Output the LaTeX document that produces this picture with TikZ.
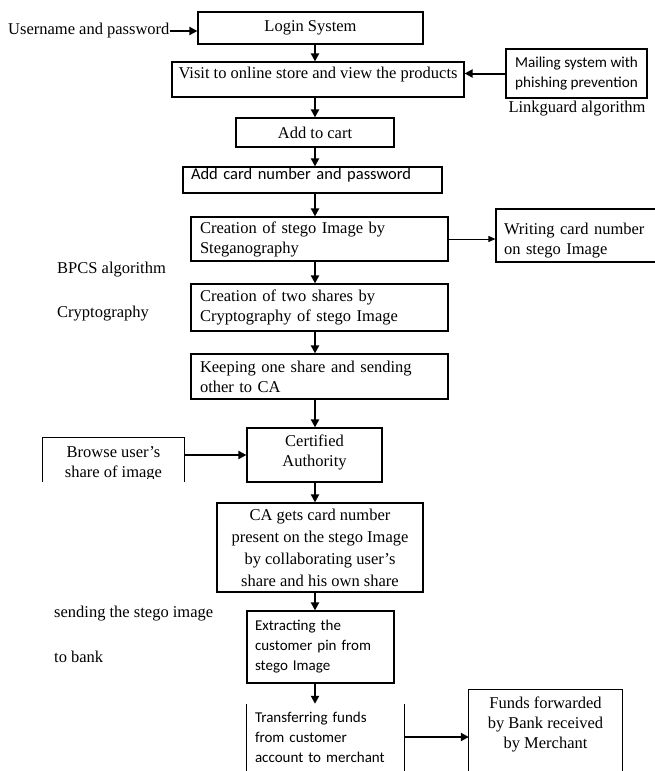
\documentclass[tikz,border=0pt]{standalone}
\usepackage{fontspec}
\setmainfont{Liberation Serif}
\newfontfamily\sansf{Carlito}
\usetikzlibrary{arrows.meta}
\begin{document}
\begin{tikzpicture}[x=1pt,y=-1pt,
  serif/.style={font=\fontsize{16.5}{20}\selectfont},
  box/.style={draw, line width=1.2pt, inner sep=0pt, serif},
  openbox/.style={inner sep=0pt, serif},
  sbox/.style={font=\sansf\fontsize{15}{20}\selectfont},
  arr/.style={line width=2pt, -{Triangle[length=8pt,width=8pt]}},
  thinarr/.style={line width=1pt, -{Triangle[length=7pt,width=6pt]}},
  lbl/.style={serif, inner sep=0pt, anchor=west},
  edge/.style={line width=1.2pt}]
\useasboundingbox (0,0) rectangle (654,771);
\coordinate (ax) at (315,0);

% main column
\node[box, minimum width=225pt, minimum height=32pt] (login) at (310.5,28) {Login System};
\node[box, minimum width=292pt, minimum height=35pt, text height=11pt, text depth=13pt] (visit) at (318,79.5) {Visit to online store and view the products};
\node[box, font=\sansf\fontsize{16.5}{20}\selectfont, minimum width=259pt, minimum height=26pt, text width=243pt, align=left, text height=11pt, text depth=12pt] (card) at (312.5,180) {Add card number and password};
\node[box, minimum width=158pt, minimum height=29pt] (cart) at (315,132.5) {Add to cart};
\node[box, minimum width=257pt, minimum height=44pt, text width=239pt, align=left] (stego) at (319.5,239) {Creation of stego Image by\\Steganography};
\node[box, minimum width=257pt, minimum height=47pt, text width=239pt, align=left] (shares) at (319.5,307.5) {Creation of two shares by\\Cryptography of stego Image};
\node[box, minimum width=257pt, minimum height=45pt, text width=239pt, align=left] (keep) at (319.5,376.5) {Keeping one share and sending\\other to CA};
\node[box, minimum width=135pt, minimum height=54pt, align=center, text depth=8pt] (cert) at (314.5,455) {Certified\\Authority};
\node[box, minimum width=206pt, minimum height=89pt, align=center, font=\fontsize{16.5}{22}\selectfont] (cagets) at (320,547.5) {CA gets card number\\present on the stego Image\\by collaborating user's\\share and his own share};
\node[box, sbox, minimum width=147pt, minimum height=72pt, text width=131pt, align=left] (extract) at (320.5,647) {Extracting the\\customer pin from\\stego Image};
\node[openbox, sbox, minimum width=157pt, minimum height=66pt, text width=141pt, align=left] (transfer) at (325.5,737) {Transferring funds\\from customer\\account to merchant};
\draw[edge] (transfer.north west) -- ++(0,75) (transfer.north east) -- ++(0,75);

% side boxes
\node[box, minimum width=141pt, minimum height=49pt, align=center, font=\sansf\fontsize{15.2}{20}\selectfont] (mail) at (576.5,73.5) {Mailing system with\\phishing prevention};
\node[lbl, anchor=center] (link) at (577,109) {Linkguard algorithm};
\node[box, minimum width=160pt, minimum height=53pt, text width=144pt, align=left, text depth=14pt] (write) at (576,235.5) {Writing card number\\on stego Image};
\begin{scope}
\clip (38,430) rectangle (190,478);
\node[openbox, minimum width=141pt, minimum height=52pt, align=center] (browse) at (113.5,464) {Browse user's\\share of image};
\end{scope}
\draw[edge] (browse.north west) ++(0,44) -- (browse.north west) -- (browse.north east) -- ++(0,44);
\node[openbox, minimum width=153pt, minimum height=68pt, align=center] (funds) at (545.5,724) {Funds forwarded\\by Bank received\\by Merchant};
\draw[edge] (funds.north west) ++(0,90) -- (funds.north west) -- (funds.north east) -- ++(0,90);

% free labels
\node[lbl] (user) at (8,31) {Username and password};
\node[lbl] (bpcs) at (57,270) {BPCS algorithm};
\node[lbl] (crypt) at (57,314) {Cryptography};
\node[lbl] (send) at (54,614) {sending the stego image};
\node[lbl] (bank) at (54,657) {to bank};

% connectors
\draw[arr] (user.east) -- (user.east -| login.west);
\draw[arr] (login.south -| ax) -- (visit.north -| ax);
\draw[arr] (mail.west) -- (mail.west -| visit.east);
\draw[arr] (visit.south -| ax) -- (cart.north -| ax);
\draw[arr] (cart.south -| ax) -- (card.north -| ax);
\draw[arr] (card.south -| ax) -- (stego.north -| ax);
\draw[thinarr] (stego.east) -- (stego.east -| write.west);
\draw[arr] (stego.south -| ax) -- (shares.north -| ax);
\draw[arr] (shares.south -| ax) -- (keep.north -| ax);
\draw[arr] (keep.south -| ax) -- (cert.north -| ax);
\draw[arr] (cert.west -| browse.east) -- (cert.west);
\draw[arr] (cert.south -| ax) -- (cagets.north -| ax);
\draw[arr] (cagets.south -| ax) -- (extract.north -| ax);
\draw[arr] (extract.south -| ax) -- (transfer.north -| ax);
\draw[arr] (transfer.east) -- (transfer.east -| funds.west);
\end{tikzpicture}
\end{document}
